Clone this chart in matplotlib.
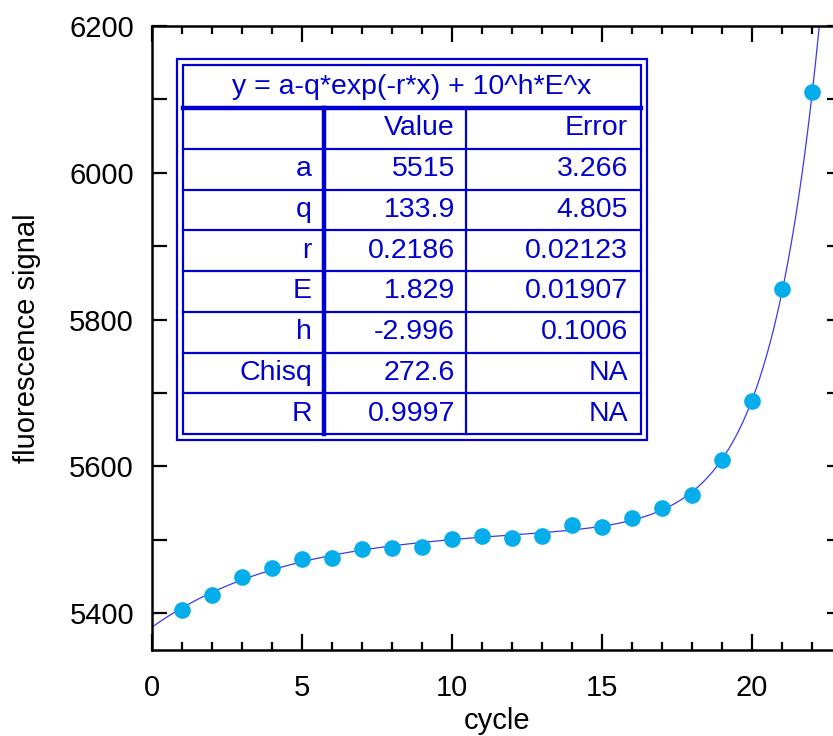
"""qPCR-style fluorescence vs cycle with fitted curve and parameter table"""
import numpy as np
import matplotlib
matplotlib.use('Agg')
import matplotlib.pyplot as plt
from matplotlib.ticker import MultipleLocator

plt.rcParams['font.family'] = ['Liberation Sans', 'DejaVu Sans']

# measured points
cycle = np.arange(1, 23)
signal = [5405, 5425, 5450, 5462, 5474, 5475, 5488, 5489, 5490, 5501, 5505,
          5503, 5505, 5520, 5518, 5530, 5544, 5561, 5609, 5689, 5842, 6110]

# fit y = a - q*exp(-r*x) + 10^h * E^x
param_names = ["a", "q", "r", "E", "h", "Chisq", "R"]
param_values = ["5515", "133.9", "0.2186", "1.829", "-2.996", "272.6", "0.9997"]
param_errors = ["3.266", "4.805", "0.02123", "0.01907", "0.1006", "NA", "NA"]
a, q, r, E, h = [float(v) for v in param_values[:5]]

BLUE = '#0000d0'
DOT = '#05adea'

fig = plt.figure(figsize=(8.33, 7.36), dpi=100)
W, H = 833., 736.
ax = fig.add_axes([152/W, 1 - 650/H, 690/W, 624/H])

xx = np.linspace(0, 23, 600)
ax.plot(xx, a - q*np.exp(-r*xx) + 10**h * E**xx, color='#3a3aee', lw=0.9, zorder=2)
ax.plot(cycle, signal, 'o', color=DOT, ms=12, mec='none', zorder=3)

ax.set_xlim(0, 23)
ax.set_ylim(5350, 6200)
ax.xaxis.set_major_locator(MultipleLocator(5))
ax.xaxis.set_minor_locator(MultipleLocator(1))
ax.yaxis.set_major_locator(MultipleLocator(200))
ax.yaxis.set_minor_locator(MultipleLocator(100))
ax.tick_params(which='both', direction='in', top=True, right=True, width=1.6,
               labelsize=21)
ax.tick_params(axis='x', which='major', length=11.5, pad=17)
ax.tick_params(axis='x', which='minor', length=6)
ax.tick_params(axis='y', which='both', length=11, pad=13)
for sp in ax.spines.values():
    sp.set_linewidth(1.8)
ax.set_xlabel("cycle", fontsize=21, labelpad=4)
ax.set_ylabel("fluorescence signal", fontsize=21, labelpad=20)

# parameter table, laid out in pixel units on an overlay
tab = fig.add_axes([0, 0, 1, 1], zorder=5)
tab.set_xlim(0, W)
tab.set_ylim(H, 0)
tab.axis('off')
tab.add_patch(plt.Rectangle((177, 59), 470, 381, fc='white', ec=BLUE, lw=1.6))
tab.add_patch(plt.Rectangle((183, 65), 458, 369, fc='none', ec=BLUE, lw=1.6))
tab.plot([183, 641], [108, 108], color=BLUE, lw=3.2)
row_h = (434 - 108) / 8.
for i in range(1, 8):
    y = 108 + i*row_h
    tab.plot([183, 641], [y, y], color=BLUE, lw=1.6)
tab.plot([324, 324], [108, 434], color=BLUE, lw=3.2)
tab.plot([466, 466], [108, 434], color=BLUE, lw=1.6)

fs = 20.5
tab.text(412, 87, "y = a-q*exp(-r*x) + 10^h*E^x", color=BLUE, fontsize=fs,
         ha='center', va='center')
rows = [("", "Value", "Error")] + list(zip(param_names, param_values, param_errors))
for i, (name, val, err) in enumerate(rows):
    yc = 108 + (i + 0.5)*row_h
    tab.text(312, yc, name, color=BLUE, fontsize=fs, ha='right', va='center')
    tab.text(455, yc, val, color=BLUE, fontsize=fs, ha='right', va='center')
    tab.text(628, yc, err, color=BLUE, fontsize=fs, ha='right', va='center')

fig.savefig("out.png", dpi=100)
